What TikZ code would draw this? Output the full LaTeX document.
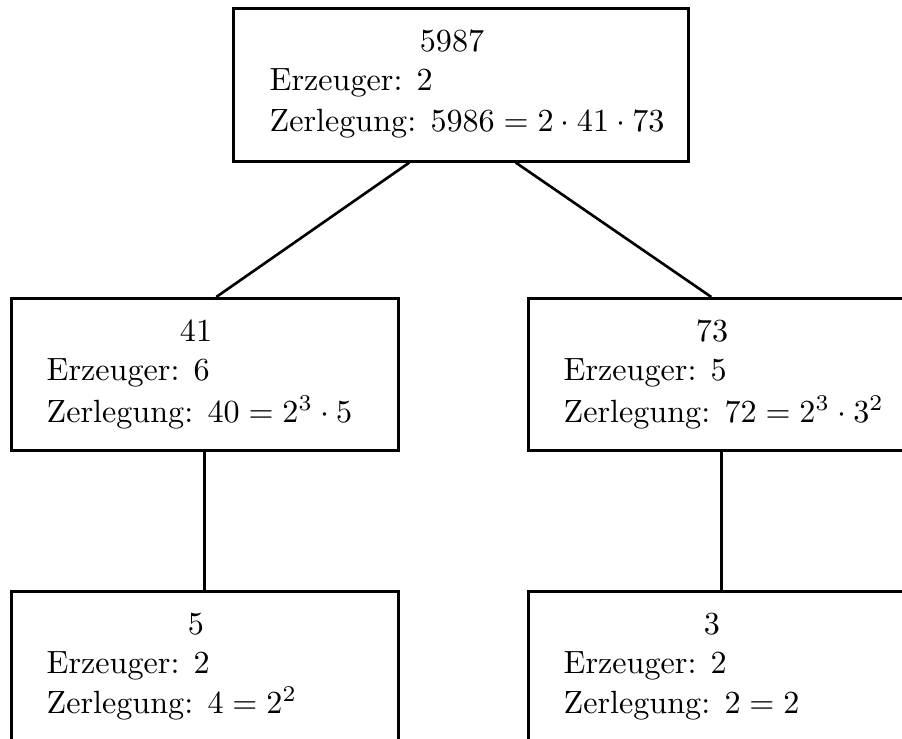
\documentclass[tikz,border=0pt]{standalone}
\begin{document}
\begin{tikzpicture}[x=0.02cm,y=-0.02cm,
    box/.style={draw, line width=1.5pt, anchor=north west, inner sep=0pt, minimum width=7.74cm, minimum height=3.04cm},
    txt/.style={inner sep=0pt, font=\fontsize{10}{12}\selectfont, scale=1.83},
    head/.style={txt, anchor=base},
    line/.style={txt, anchor=base west}]
    \useasboundingbox (0,0) rectangle (902,739);
    % boxes
    \node[box, minimum width=9.1cm, minimum height=3.06cm] (b5987) at (232,7) {};
    \node[box] (b41) at (10,297) {};
    \node[box] (b73) at (527,297) {};
    \node[box, minimum height=3cm] (b5) at (10,590) {};
    \node[box, minimum height=3cm] (b3) at (527,590) {};
    % texts
    \node[head] (h5987) at (452,52) {5987};
    \node[line] (e5987) at (269,91) {Erzeuger: 2};
    \node[line] (z5987) at (269,132) {Zerlegung: $5986 = 2\cdot 41\cdot 73$};
    \node[head] (h41) at (196,342) {41};
    \node[line] (e41) at (46,381) {Erzeuger: 6};
    \node[line] (z41) at (46,422) {Zerlegung: $40 = 2^3\cdot 5$};
    \node[head] (h73) at (712,342) {73};
    \node[line] (e73) at (563,381) {Erzeuger: 5};
    \node[line] (z73) at (563,422) {Zerlegung: $72 = 2^3\cdot 3^2$};
    \node[head] (h5) at (196,634) {5};
    \node[line] (e5) at (46,673) {Erzeuger: 2};
    \node[line] (z5) at (46,713) {Zerlegung: $4 = 2^2$};
    \node[head] (h3) at (712,634) {3};
    \node[line] (e3) at (563,673) {Erzeuger: 2};
    \node[line] (z3) at (563,713) {Zerlegung: $2 = 2$};
    % connectors
    \draw[line width=1.5pt] ([xshift=-1.03cm]b5987.south) -- ([xshift=0.23cm]b41.north);
    \draw[line width=1.5pt] ([xshift=1.1cm]b5987.south) -- ([xshift=-0.21cm]b73.north);
    \draw[line width=1.5pt] (b41.south) -- (b5.north);
    \draw[line width=1.5pt] (b73.south) -- (b3.north);
\end{tikzpicture}
\end{document}
